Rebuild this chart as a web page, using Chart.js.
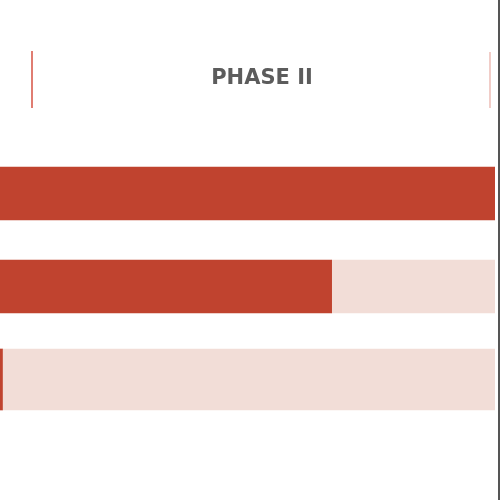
<!DOCTYPE html>
<html>
<head>
<meta charset="utf-8">
<script src="https://cdn.jsdelivr.net/npm/chart.js@4"></script>
<style>
  html, body { margin: 0; padding: 0; background: #fff; }
  #wrap { width: 498px; height: 500px; border-right: 2px solid #555; }
</style>
</head>
<body>
<div id="wrap"><canvas id="phase_chart"></canvas></div>
<script>
const ctx = document.querySelector('#phase_chart')

const heading = 'PHASE II';
const stages = ["Task A", "Task B", "Task C"];
const progress = [100, 67, 0.5];
const remaining = progress.map(v => 100 - v);

const red = '#c0432f';
const pink = '#f2ddd7';

// first two rows share one thickness, the last row is a bit taller
const pick = (arr, rows) => arr.map((v, i) => rows.includes(i) ? v : null);

// phase header: two bracket lines with the label centred between them
const header = {
    id: 'header',
    afterDraw(chart) {
        const c = chart.ctx;
        const left = 32, right = 490;
        c.save();
        c.lineWidth = 2;
        c.strokeStyle = '#e07d72';
        c.beginPath(); c.moveTo(left, 51); c.lineTo(left, 108); c.stroke();
        c.strokeStyle = '#f1cdc8';
        c.beginPath(); c.moveTo(right, 52); c.lineTo(right, 108); c.stroke();
        c.fillStyle = '#5c5c5c';
        c.font = 'bold 21px "DejaVu Sans"';
        c.textAlign = 'center';
        c.textBaseline = 'middle';
        c.fillText(heading, (left + right) / 2 + 1, 79);
        c.restore();
    }
};

new Chart(ctx, {
    type: 'bar',
    data: {
        labels: stages,
        datasets: [
            { data: pick(progress, [0, 1]), backgroundColor: red, barThickness: 53 },
            { data: pick(remaining, [0, 1]), backgroundColor: pink, barThickness: 53 },
            { data: pick(progress, [2]), backgroundColor: red, barThickness: 61 },
            { data: pick(remaining, [2]), backgroundColor: pink, barThickness: 61 }
        ]
    },
    options: {
        indexAxis: 'y',
        responsive: true,
        maintainAspectRatio: false,
        animation: false,
        layout: { padding: { left: 0, right: 3, top: 147, bottom: 74 } },
        plugins: {
            legend: false,
            tooltip: { enabled: false }
        },
        scales: {
            x: { display: false, stacked: true, min: 0, max: 100 },
            y: { display: false, stacked: true }
        }
    },
    plugins: [header]
})
</script>
</body>
</html>
